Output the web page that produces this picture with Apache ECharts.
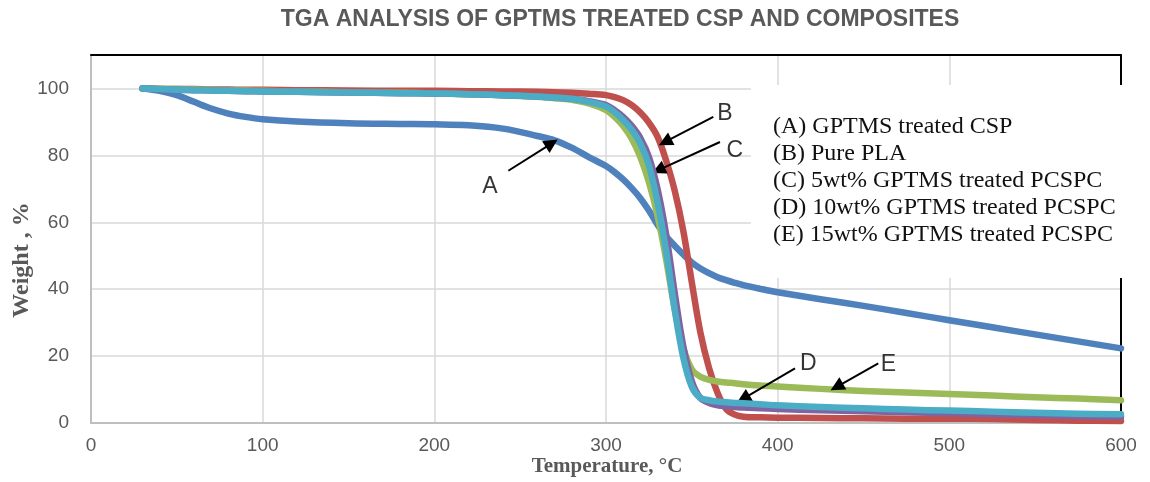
<!DOCTYPE html>
<html><head><meta charset="utf-8">
<script src="https://cdn.jsdelivr.net/npm/echarts@6/dist/echarts.min.js"></script>
<style>html,body{margin:0;padding:0;background:#fff}#c{width:1150px;height:482px}</style>
</head><body><div id="c"></div>
<script>
// Temperature (°C) sample points shared by all curves
const temps = [30,40,50,60,70,80,90,100,120,150,180,200,220,240,260,270,280,290,300,305,310,315,320,325,330,335,340,345,350,355,360,365,370,375,380,390,400,425,450,475,500,525,550,575,600];
// (A) GPTMS treated CSP
const weightA = [100,99.3,98.0,96.0,94.0,92.5,91.5,90.8,90.1,89.6,89.4,89.3,89.0,88.0,85.8,84.5,82.3,79.5,76.8,75.0,72.8,70.2,67.2,63.5,59.3,55.8,53.0,50.4,48.0,46.2,44.8,43.6,42.7,41.9,41.2,40.1,39.1,37.0,35.0,32.9,30.7,28.6,26.5,24.4,22.3];
// (B) Pure PLA
const weightB = [100,99.9,99.8,99.8,99.7,99.7,99.6,99.6,99.5,99.4,99.3,99.3,99.2,99.1,99.0,98.9,98.7,98.4,98.0,97.4,96.5,95.0,92.8,89.8,85.6,78.5,69.5,57.5,42.0,27.0,16.5,9.0,4.2,2.5,1.9,1.7,1.6,1.5,1.4,1.3,1.3,1.2,0.9,0.7,0.6];
// (C) 5wt% GPTMS treated PCSPC
const weightC = [100,99.9,99.8,99.7,99.6,99.5,99.4,99.3,99.1,98.9,98.7,98.5,98.3,98.0,97.5,97.1,96.6,95.5,93.5,91.5,88.8,85.0,79.5,72.0,62.0,49.0,34.0,22.5,16.0,13.8,12.9,12.4,12.1,11.9,11.6,11.2,10.9,10.2,9.6,9.1,8.7,8.2,7.7,7.3,6.8];
// (D) 10wt% GPTMS treated PCSPC
const weightD = [100,99.8,99.6,99.5,99.4,99.3,99.2,99.1,99.0,98.8,98.6,98.5,98.3,98.0,97.6,97.3,96.9,96.2,95.0,93.5,91.5,88.8,85.2,79.5,70.0,56.5,39.0,23.0,12.5,7.5,6.0,5.3,5.0,4.8,4.6,4.4,4.2,3.8,3.5,3.2,2.9,2.6,2.4,2.1,1.9];
// (E) 15wt% GPTMS treated PCSPC
const weightE = [100,99.8,99.6,99.5,99.4,99.3,99.2,99.1,99.0,98.8,98.6,98.5,98.3,98.0,97.6,97.3,96.9,96.0,94.6,92.9,90.6,87.6,83.5,77.0,66.0,51.5,34.0,19.6,10.8,7.5,6.8,6.4,6.2,6.0,5.9,5.6,5.3,4.8,4.4,4.0,3.7,3.4,3.1,2.8,2.6];

const seriesNames = ['A','B','C','D','E'];
const legendLines = ['(A) GPTMS treated CSP','(B) Pure PLA','(C) 5wt% GPTMS treated PCSPC','(D) 10wt% GPTMS treated PCSPC','(E) 15wt% GPTMS treated PCSPC'];
const titleText = 'TGA ANALYSIS OF GPTMS TREATED CSP AND COMPOSITES';
const xAxisTitle = 'Temperature, °C';
const yAxisTitle = 'Weight , %';
// annotation arrows in data coordinates [temp, weight]
const arrowLabels = ['A','B','C','D','E'];
const arrowLabelPos = [[232.4,70.6],[369.3,92.5],[375.1,81.5],[417.8,17.8],[464.5,17.3]];
const arrowFrom = [[243.1,75.4],[362.5,91.5],[366.4,84.0],[410.1,16.3],[458.6,17.8]];
const arrowTo = [[268.4,83.6],[334.4,84.0],[330.5,75.6],[380.0,7.3],[434.4,10.8]];

const colors = ['#4F81BD','#C0504D','#9BBB59','#8064A2','#4BACC6'];
const allWeights = [weightA, weightB, weightC, weightD, weightE];

const chart = echarts.init(document.getElementById('c'), null, {renderer:'canvas'});
const lineSeries = allWeights.map((w,i)=>({
  name: seriesNames[i], type:'line', xAxisIndex:0, yAxisIndex:0,
  data: temps.map((t,j)=>[t,w[j]]),
  showSymbol:false, smooth:0.35,
  lineStyle:{color:colors[i], width:6.5, cap:'round', join:'round'},
  itemStyle:{color:colors[i]}, z: 2+i, silent:true
}));
const annSeries = {
  type:'scatter', xAxisIndex:0, yAxisIndex:0, z:20, silent:true,
  symbolSize:1, itemStyle:{color:'rgba(0,0,0,0)'},
  data: arrowLabels.map((l,i)=>({name:l, value:arrowLabelPos[i]})),
  label:{show:true, position:'inside', formatter:'{b}', color:'#000', fontSize:23, fontFamily:'Liberation Sans, Arial, sans-serif'},
  markLine:{
    silent:true, animation:false, symbol:['none','triangle'], symbolSize:14,
    lineStyle:{color:'#000', width:2, type:'solid'}, label:{show:false},
    itemStyle:{color:'#000'},
    data: arrowFrom.map((f,i)=>[{coord:f},{coord:arrowTo[i]}])
  }
};

chart.setOption({
  animation:false,
  backgroundColor:'#fff',
  grid:{left:91, right:29, top:55, bottom:59},
  xAxis:[{
    type:'value', min:0, max:600, interval:100,
    axisLine:{show:true, lineStyle:{color:'#BFBFBF', width:2}},
    axisTick:{show:false},
    axisLabel:{color:'#595959', fontSize:19, margin:13, fontFamily:'Liberation Sans, Arial, sans-serif'},
    splitLine:{show:true, lineStyle:{color:'#D9D9D9', width:1.5}}
  },{
    type:'value', position:'top', min:0, max:600,
    axisLine:{show:true, onZero:false, lineStyle:{color:'#000', width:2}},
    axisTick:{show:false}, axisLabel:{show:false}, splitLine:{show:false}
  }],
  yAxis:[{
    type:'value', min:0, max:110, interval:20,
    axisLine:{show:true, lineStyle:{color:'#BFBFBF', width:2}},
    axisTick:{show:false},
    axisLabel:{color:'#595959', fontSize:19, margin:22, showMaxLabel:false, fontFamily:'Liberation Sans, Arial, sans-serif'},
    splitLine:{show:true, lineStyle:{color:'#D9D9D9', width:1.5}}
  },{
    type:'value', position:'right', min:0, max:110,
    axisLine:{show:true, onZero:false, lineStyle:{color:'#000', width:2}},
    axisTick:{show:false}, axisLabel:{show:false}, splitLine:{show:false}
  }],
  series: lineSeries.concat([annSeries]),
  graphic:[
    {type:'rect', z:100, shape:{x:751, y:85, width:380, height:193}, style:{fill:'#fff'}},
    {type:'text', z:101, x:773, y:113, style:{text:legendLines.join('\n'), fill:'#111', font:'24px "Liberation Serif", "Times New Roman", serif', lineHeight:27, textVerticalAlign:'top'}},
    {type:'text', z:101, x:620, y:20, style:{text:titleText, fill:'#595959', font:'bold 23px "Liberation Sans", Arial, sans-serif', textAlign:'center', textVerticalAlign:'middle'}},
    {type:'text', z:101, x:607, y:467, style:{text:xAxisTitle, fill:'#595959', font:'bold 21px "Liberation Serif", "Times New Roman", serif', textAlign:'center', textVerticalAlign:'middle'}},
    {type:'text', z:101, x:22, y:260, rotation:Math.PI/2, style:{text:yAxisTitle, fill:'#595959', font:'bold 24px "Liberation Serif", "Times New Roman", serif', textAlign:'center', textVerticalAlign:'middle'}}
  ]
});
</script></body></html>
